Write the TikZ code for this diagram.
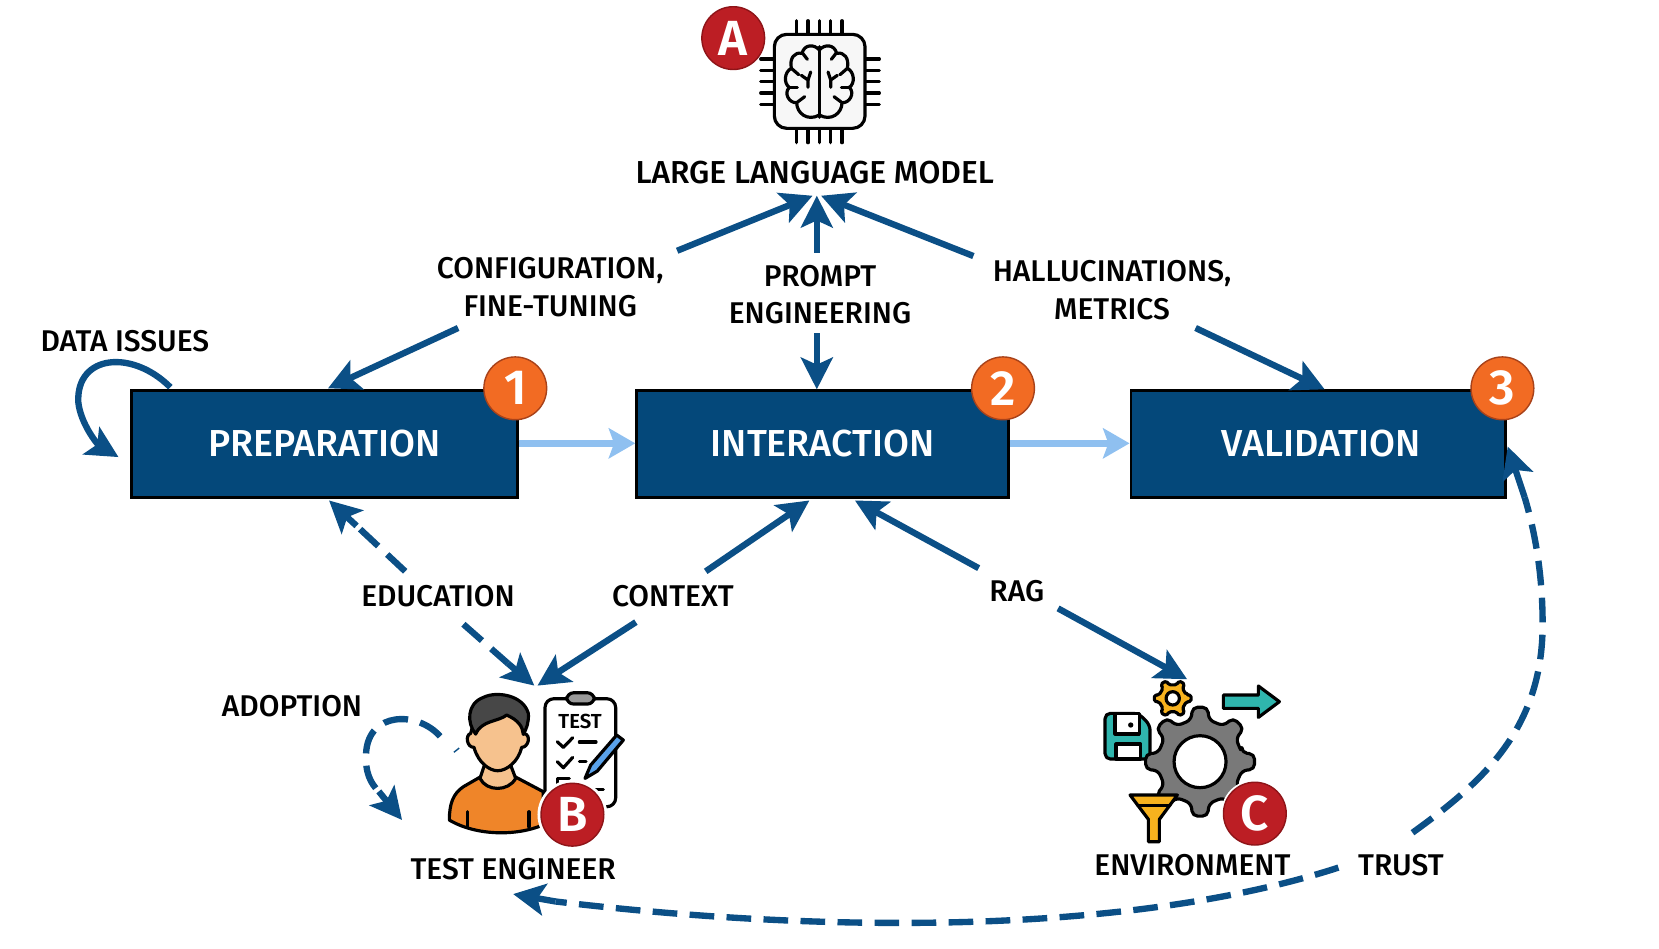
\documentclass[tikz,border=0pt]{standalone}
\usepackage{fontspec}
\setmainfont{Fira Sans Medium}[BoldFont={Fira Sans SemiBold}]
\usetikzlibrary{arrows.meta,calc}
\definecolor{navy}{HTML}{04487A}
\definecolor{flow}{HTML}{0B4F86}
\definecolor{lightflow}{HTML}{8FC0F0}
\definecolor{orangeb}{HTML}{F26B23}
\definecolor{orangee}{HTML}{A8421A}
\definecolor{redb}{HTML}{BC1E24}
\definecolor{rede}{HTML}{8E1418}
\definecolor{teal}{HTML}{2FB5AD}
\definecolor{amber}{HTML}{F7B21E}
\definecolor{skin}{HTML}{F6C28E}
\definecolor{shirt}{HTML}{EF8529}
\definecolor{hair}{HTML}{474747}
\definecolor{pen}{HTML}{5AA2EA}
\tikzset{
  phase/.style={draw=black,line width=1.5pt,fill=navy,text=white,font=\fontsize{21.3}{24}\selectfont,inner sep=0pt},
  lbl/.style={font=\fontsize{17}{19}\selectfont,text=black,inner sep=1pt,align=center},
  conn/.style={draw=flow,line width=3.6pt,-{Stealth[length=18pt,width=18pt,inset=4pt]}},
  dplain/.style={draw=flow,line width=3.6pt,dash pattern=on 14pt off 7pt},
  lightconn/.style={draw=lightflow,line width=4pt,-{Stealth[length=15pt,width=17pt,inset=3pt]}},
  numbadge/.style={circle,draw=orangee,line width=0.8pt,fill=orangeb,text=white,minimum size=35.6pt,inner sep=0pt,font=\bfseries\fontsize{28}{28}\selectfont},
  letbadge/.style={circle,draw=rede,line width=0.8pt,fill=redb,text=white,minimum size=35.6pt,inner sep=0pt,font=\bfseries\fontsize{28}{28}\selectfont},
  ink/.style={draw=black,line width=1.8pt,line cap=round,line join=round},
}
\begin{document}
\begin{tikzpicture}[x=0.6pt,y=-0.6pt]
\useasboundingbox (0,0) rectangle (1568,896);

% phases
\node[phase,minimum width=219pt,minimum height=60.6pt] (prep) at (306.5,419.5) {\raisebox{-2pt}{PREPARATION}};
\node[phase,minimum width=211pt,minimum height=60.6pt] (inter) at (777.5,419.5) {\raisebox{-2pt}{INTERACTION}};
\node[phase,minimum width=212.6pt,minimum height=60.6pt] (valid) at (1246,419.5) {\raisebox{-2pt}{\hspace{3pt}VALIDATION}};

% labels
\node[lbl,font=\fontsize{18}{20}\selectfont] (llmlabel) at (770,163) {LARGE LANGUAGE MODEL};
\node[lbl] (cfg) at (520,271.5) {CONFIGURATION,\\[2.4pt]FINE-TUNING};
\node[lbl] (prompt) at (775,278.5) {PROMPT\\[2.4pt]ENGINEERING};
\node[lbl] (halluc) at (1051,274) {HALLUCINATIONS,\\[2.4pt]METRICS};
\node[lbl] (dataissues) at (118,322) {DATA ISSUES};
\node[lbl] (education) at (414,563) {EDUCATION};
\node[lbl] (context) at (636,563) {CONTEXT};
\node[lbl] (rag) at (961,559) {RAG};
\node[lbl] (adoption) at (276,667) {ADOPTION};
\node[lbl] (tester) at (485,821) {TEST ENGINEER};
\node[lbl] (envlabel) at (1127,818) {ENVIRONMENT};
\node[lbl] (trust) at (1324,818) {TRUST};

% connector end points
\coordinate (hubA) at (768,185);
\coordinate (hubB) at (772,185);
\coordinate (hubC) at (776,185);
\coordinate (cfgU) at (640,237);
\coordinate (cfgD) at (433,310);
\coordinate (prepIn) at (310,367);
\coordinate (prU) at (772,239);
\coordinate (prD) at (772,315);
\coordinate (interIn) at (772,368);
\coordinate (haU) at (920,242);
\coordinate (haD) at (1130,310);
\coordinate (validIn) at (1252,368);
\coordinate (dataA) at (161,366);
\coordinate (dataB) at (112,432);
\coordinate (prepB) at (311,473);
\coordinate (prepStub) at (337,497);
\coordinate (eduU) at (383,540);
\coordinate (eduD) at (438,590);
\coordinate (testStub) at (480,627);
\coordinate (testA) at (505,648);
\coordinate (testB) at (508,648);
\coordinate (interL) at (765,473);
\coordinate (ctxU) at (667,540);
\coordinate (ctxD) at (601,588);
\coordinate (interR) at (808,473);
\coordinate (ragU) at (925,537);
\coordinate (ragD) at (1000,575);
\coordinate (envIn) at (1122,642);
\coordinate (adoptA) at (416,696);
\coordinate (adoptStub) at (358,748);
\coordinate (adoptB) at (380,775);
\coordinate (trustA) at (1335,787);
\coordinate (validStub) at (1441,470);
\coordinate (validR) at (1425,422);
\coordinate (trustB) at (1265,820);
\coordinate (testStubB) at (525,852);
\coordinate (testIn) at (485,845);

% sequence between phases
\draw[lightconn] (prep.east |- 0,419) -- (inter.west |- 0,419);
\draw[lightconn] (inter.east |- 0,419) -- (valid.west |- 0,419);

% links towards the model and the phases
\draw[conn] (cfgU) -- (hubA);
\draw[conn] (cfgD) -- (prepIn);
\draw[conn] (prU) -- (hubB);
\draw[conn] (prD) -- (interIn);
\draw[conn] (haU) -- (hubC);
\draw[conn] (haD) -- (validIn);
\draw[conn] (dataA) .. controls (125,330) and (72,335) .. (74,380) .. controls (76,400) and (92,420) .. (dataB);
\draw[dplain] (eduU) -- (prepStub);
\draw[conn] (prepStub) -- (prepB);
\draw[dplain] (eduD) -- (testStub);
\draw[conn] (testStub) -- (testA);
\draw[conn] (ctxU) -- (interL);
\draw[conn] (ctxD) -- (testB);
\draw[conn] (ragU) -- (interR);
\draw[conn] (ragD) -- (envIn);
\draw[dplain] (adoptA) .. controls (395,672) and (348,672) .. (346,712) .. controls (345,730) and (350,740) .. (adoptStub);
\draw[conn] (adoptStub) -- (adoptB);
\draw[draw=flow,line width=0.8pt] (429,711) -- (434,707);
\draw[dplain] (trustA) .. controls (1400,740) and (1458,690) .. (1458,590) .. controls (1458,540) and (1450,500) .. (validStub);
\draw[conn] (validStub) -- (validR);
\draw[dplain] (trustB) .. controls (1080,880) and (800,885) .. (testStubB);
\draw[conn] (testStubB) -- (testIn);

% chip with a brain
\begin{scope}[shift={(642.7,0)},scale=0.31506]
  \foreach \p in {350,384,418,452,486} {
    \draw[ink] (\p,62) -- (\p,100);
    \draw[ink] (\p,388) -- (\p,428);
  }
  \foreach \p in {177,211,245,279,313} {
    \draw[ink] (242,\p) -- (283,\p);
    \draw[ink] (555,\p) -- (598,\p);
  }
  \draw[ink,fill=white!97!black,rounded corners=7pt] (283,103) rectangle (555,385);
  \draw[ink] (418,140) -- (418,352);
  \begin{scope}[shift={(418,0)}]
    \foreach \m in {1,-1} {
      \begin{scope}[xscale=\m]
        \draw[ink] (0,150) .. controls (-15,132) and (-45,132) .. (-52,160)
          .. controls (-75,155) and (-90,175) .. (-84,205)
          .. controls (-105,215) and (-108,250) .. (-90,262)
          .. controls (-108,280) and (-90,310) .. (-68,308)
          .. controls (-68,340) and (-35,365) .. (0,345);
        \draw[ink] (-50,160) -- (-36,178);
        \draw[ink] (-84,205) -- (-62,224);
        \draw[ink] (-90,262) -- (-66,262);
        \draw[ink] (-68,308) -- (-44,290);
        \draw[ink] (-34,262) -- (-34,240) -- (-54,226);
        \draw[ink] (-34,240) -- (-26,216);
      \end{scope}
    }
  \end{scope}
\end{scope}

% test engineer with a checklist
\begin{scope}[shift={(330.8,633.3)},scale=0.31506]
  \draw[ink,fill=white,rounded corners=5pt] (585,86) rectangle (797,410);
  \draw[ink,fill=gray!80,rounded corners=4pt] (650,68) rectangle (733,102);
  \node[font=\bfseries\fontsize{11.5}{11}\selectfont,inner sep=0pt] (testword) at (690,153) {TEST};
  \draw[ink] (622,215) -- (640,232) -- (668,203);
  \draw[ink] (688,216) -- (738,216);
  \draw[ink] (622,275) -- (640,293) -- (668,262);
  \draw[ink] (688,274) -- (708,274);
  \draw[ink] (658,325) -- (622,325) -- (622,350);
  \draw[ink] (720,358) -- (760,358);
  \draw[ink,fill=pen] (705,325) -- (722,285) -- (800,195) -- (820,210) -- (742,303) -- cycle;
  \draw[ink,fill=shirt] (298,450) .. controls (298,400) and (310,370) .. (340,350) -- (392,320) -- (495,320) -- (580,365) -- (578,465) .. controls (500,498) and (380,498) .. (298,450) -- cycle;
  \draw[ink] (352,425) -- (352,470);
  \draw[ink] (537,425) -- (537,470);
  \draw[ink,fill=skin] (405,280) -- (390,325) .. controls (410,365) and (475,365) .. (497,325) -- (480,280) -- cycle;
  \draw[ink,fill=skin] (362,190) .. controls (345,195) and (350,232) .. (372,232) .. controls (385,280) and (420,302) .. (443,302) .. controls (470,302) and (505,275) .. (515,232) .. controls (535,232) and (545,195) .. (522,190) .. controls (515,110) and (375,110) .. (362,190) -- cycle;
  \draw[ink,fill=hair] (377,192) .. controls (350,160) and (350,100) .. (400,82) .. controls (440,62) and (520,75) .. (535,130) .. controls (537,155) and (530,175) .. (520,193) .. controls (518,170) and (505,150) .. (470,135) .. controls (445,155) and (395,150) .. (377,192) -- cycle;
\end{scope}

% environment gears and tools
\begin{scope}[shift={(1020.8,623.8)},scale=0.31506]
  \draw[ink,fill=teal,rounded corners=3pt] (75,160) -- (175,160) -- (210,195) -- (210,297) -- (75,297) -- cycle;
  \draw[ink,fill=white] (105,160) rectangle (178,222);
  \fill[black] (152,195) circle (8);
  \draw[ink,fill=white] (108,252) rectangle (182,297);
  \begin{scope}[shift={(360,305)}]
    \draw[ink,fill=gray!95!black,rounded corners=3pt] ({-12}:128) \foreach \a in {0,45,...,315} { -- ({\a-12}:128) -- ({\a-8}:165) -- ({\a+8}:165) -- ({\a+12}:128) } -- cycle;
    \draw[ink,fill=white] (0,0) circle (78);
  \end{scope}
  \begin{scope}[shift={(278,115)}]
    \draw[ink,fill=amber,rounded corners=1pt] ({-14}:42) \foreach \a in {0,60,...,300} { -- ({\a-14}:42) -- ({\a-10}:56) -- ({\a+10}:56) -- ({\a+14}:42) } -- cycle;
    \draw[ink,fill=white] (0,0) circle (20);
  \end{scope}
  \draw[ink,fill=teal] (430,105) -- (535,105) -- (535,78) -- (598,125) -- (535,172) -- (535,145) -- (430,145) -- cycle;
  \draw[ink,fill=amber] (150,405) -- (292,405) -- (238,478) -- (238,545) -- (205,545) -- (205,478) -- cycle;
  \draw[ink] (172,436) -- (270,436);
\end{scope}

% badges
\node[numbadge] (one) at (487,367) {1};
\node[numbadge] (two) at (948,367) {2};
\node[numbadge] (three) at (1420,367) {3};
\node[letbadge] (a) at (693,36) {A};
\fill[white] (541,770) circle (33);
\node[letbadge] (b) at (541,770) {B};
\fill[white] (1186,769) circle (32);
\node[letbadge] (c) at (1186,769) {C};
\end{tikzpicture}
\end{document}
